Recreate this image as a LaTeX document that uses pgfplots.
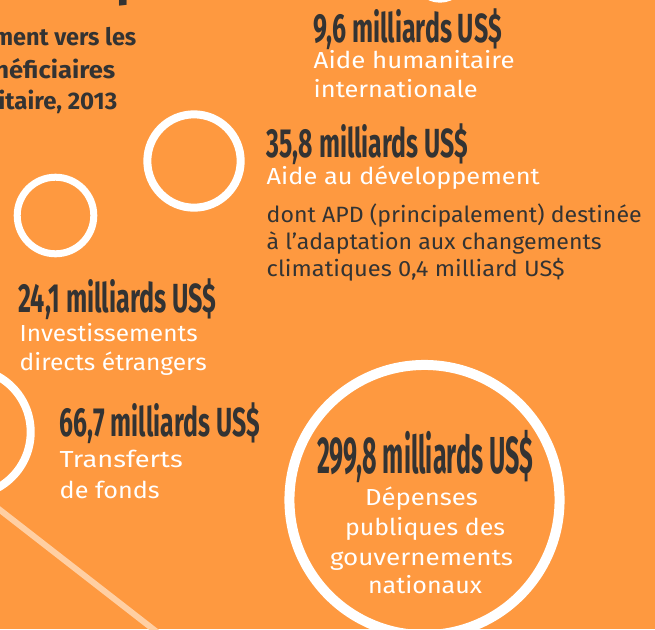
\documentclass[border=0pt]{standalone}
\usepackage{pgfplots}
\pgfplotsset{compat=1.18}
\usepackage{graphicx}
\usepackage{fontspec}
\setmainfont{Fira Sans}

\definecolor{bg}{HTML}{FE9940}
\definecolor{ink}{HTML}{333333}
\definecolor{peach}{HTML}{FFCFA3}

% 1 px of the reference = 0.75pt
\newdimen\pxu \pxu=0.75pt
\newcommand\fitw[2]{\resizebox{#1\pxu}{\height}{#2}}
\newcommand\numf{\fontsize{30.5pt}{30.5pt}\bfseries\selectfont}
\newcommand\bignumf{\fontsize{39pt}{39pt}\bfseries\selectfont}
\newcommand\wf{\fontsize{17.4pt}{17.4pt}\selectfont}
\newcommand\df{\fontsize{16.6pt}{16.6pt}\selectfont}
\newcommand\hf{\fontsize{18pt}{18pt}\bfseries\selectfont}

% bubbles: centre (px), value (milliards US$), ring width (px)
\pgfplotstableread{
x      y      v      w
440    -25    9.6    7
194    161    35.8   8
55.5   215.5  24.1   7
-33    432    66.7   8
424.5  500    299.8  10
}\bubbles

\begin{document}
\begin{tikzpicture}
% the axis reaches beyond the visible page so that the cut bubbles keep their centres inside
\begin{axis}[
    scale only axis,
    width=521.25pt, height=494.25pt,
    xmin=-40, xmax=655, ymin=-30, ymax=629,
    y dir=reverse,
    axis line style={draw=none},
    xtick=\empty, ytick=\empty,
    axis background/.style={fill=bg},
    clip marker paths=true,
    every node/.style={inner sep=0pt, outer sep=0pt},
]
    \coordinate (bbA) at (axis cs:0,629);
    \coordinate (bbB) at (axis cs:655,0);

    % diagonal line bottom left
    \addplot[peach, line width=4.5pt] coordinates {(-10,502.2) (170,642.2)};

    % bubbles, area proportional to value
    \addplot[scatter, only marks, mark=o,
        scatter/use mapped color={draw=white},
        visualization depends on={5.85*sqrt(\thisrow{v}) \as \rr},
        visualization depends on={0.75*\thisrow{w} \as \ww},
        scatter/@pre marker code/.append code={%
            \pgfmathsetlength\pgfplotmarksize{\rr pt}%
            \pgfsetlinewidth{\ww pt}},
    ] table[x=x, y=y] {\bubbles};

    % cut title remnants, top left
    \node[anchor=base west, text=ink] at (axis cs:112,-5) {\fontsize{36pt}{36pt}\bfseries\selectfont p};
    \node[anchor=base east, text=ink] at (axis cs:141,45) {\fitw{143}{\hf ment vers les}};
    \node[anchor=base east, text=ink] at (axis cs:120,78) {\fitw{121}{\hf néficiaires}};
    \node[anchor=base east, text=ink] at (axis cs:122,109) {\hf itaire, 2013};

    % 9,6
    \node[anchor=base west, text=ink] at (axis cs:309,42) {\fitw{188}{\numf 9,6 milliards US\$}};
    \node[anchor=base west, text=white] at (axis cs:309,68) {\fitw{201}{\wf Aide humanitaire}};
    \node[anchor=base west, text=white] at (axis cs:309,97) {\fitw{164}{\wf internationale}};

    % 35,8
    \node[anchor=base west, text=ink] at (axis cs:262,157) {\fitw{201}{\numf 35,8 milliards US\$}};
    \node[anchor=base west, text=white] at (axis cs:262,184) {\fitw{273}{\wf Aide au développement}};
    \node[anchor=base west, text=ink] at (axis cs:262,222) {\fitw{375}{\df dont APD (principalement) destinée}};
    \node[anchor=base west, text=ink] at (axis cs:262,249) {\fitw{335}{\df à l’adaptation aux changements}};
    \node[anchor=base west, text=ink] at (axis cs:262,276) {\fitw{298}{\df climatiques 0,4 milliard US\$}};

    % 24,1
    \node[anchor=base west, text=ink] at (axis cs:14,312) {\fitw{198}{\numf 24,1 milliards US\$}};
    \node[anchor=base west, text=white] at (axis cs:15,341) {\fitw{178}{\wf Investissements}};
    \node[anchor=base west, text=white] at (axis cs:15,370) {\fitw{187}{\wf directs étrangers}};

    % 66,7
    \node[anchor=base west, text=ink] at (axis cs:55,436) {\fitw{200}{\numf 66,7 milliards US\$}};
    \node[anchor=base west, text=white] at (axis cs:55,467) {\fitw{123}{\wf Transferts}};
    \node[anchor=base west, text=white] at (axis cs:55,498) {\fitw{100}{\wf de fonds}};

    % 299,8
    \node[anchor=base, text=ink] at (axis cs:425,473) {\fitw{216}{\bignumf 299,8 milliards US\$}};
    \node[anchor=base, text=white] at (axis cs:421.5,505) {\fitw{113}{\wf Dépenses}};
    \node[anchor=base, text=white] at (axis cs:425,535) {\fitw{160}{\wf publiques des}};
    \node[anchor=base, text=white] at (axis cs:421.5,565) {\fitw{183}{\wf gouvernements}};
    \node[anchor=base, text=white] at (axis cs:425,593) {\fitw{114}{\wf nationaux}};
\end{axis}
\pgfresetboundingbox
\useasboundingbox (bbA) rectangle (bbB);
\end{tikzpicture}
\end{document}
